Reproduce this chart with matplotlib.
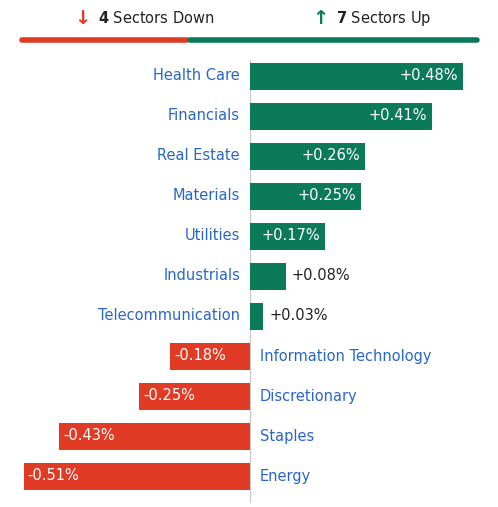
import matplotlib
matplotlib.use("Agg")
import matplotlib.pyplot as plt

sectors = ["Health Care","Financials","Real Estate","Materials","Utilities","Industrials",
           "Telecommunication","Information Technology","Discretionary","Staples","Energy"]
values = [0.48,0.41,0.26,0.25,0.17,0.08,0.03,-0.18,-0.25,-0.43,-0.51]
n_down, n_up = 4, 7

GREEN = "#0b7a58"; RED = "#e23b25"; BLUE = "#2a66c9"
W, H = 498, 507
fig = plt.figure(figsize=(W/100, H/100), dpi=100)
ax = fig.add_axes([0, 0, 1, 1])
ppu = 443.75
ax.set_xlim(-250/ppu, (W-250)/ppu)
ax.set_ylim(H, 0)
ax.axis("off")

ys = [76 + 40*i for i in range(len(values))]
ax.plot([0, 0], [60, 502], color="#cccccc", lw=1, zorder=0)
for y, v, s in zip(ys, values, sectors):
    c = GREEN if v > 0 else RED
    ax.barh(y, v, height=27, color=c, zorder=2)
    # rounded look imitation skipped
    lab = f"+{v:.2f}%" if v > 0 else f"{v:.2f}%"
    if v > 0:
        ax.text(-10/ppu, y, s, ha="right", va="center", color=BLUE, fontsize=10.5)
        if v >= 0.15:
            ax.text(v - 5/ppu, y, lab, ha="right", va="center", color="white", fontsize=10.5)
        else:
            ax.text(v + 6/ppu, y, lab, ha="left", va="center", color="#222222", fontsize=10.5)
    else:
        ax.text(10/ppu, y, s, ha="left", va="center", color=BLUE, fontsize=10.5)
        ax.text(v + 4/ppu, y, lab, ha="left", va="center", color="white", fontsize=10.5)

# header
tot = n_down + n_up
ax.plot([-228/ppu, -63/ppu], [40, 40], color=RED, lw=4, solid_capstyle="round")
ax.plot([-60/ppu, 227/ppu], [40, 40], color=GREEN, lw=4, solid_capstyle="round")
ax.text(-168/ppu, 18, "↓", color=RED, fontsize=14, ha="center", va="center", fontweight="bold")
ax.text(-152/ppu, 18, f"$\\bf{{{n_down}}}$ Sectors Down", color="#222222", fontsize=10.5, ha="left", va="center")
ax.text(70/ppu, 18, "↑", color=GREEN, fontsize=14, ha="center", va="center", fontweight="bold")
ax.text(86/ppu, 18, f"$\\bf{{{n_up}}}$ Sectors Up", color="#222222", fontsize=10.5, ha="left", va="center")

fig.savefig("out.png", dpi=100)
